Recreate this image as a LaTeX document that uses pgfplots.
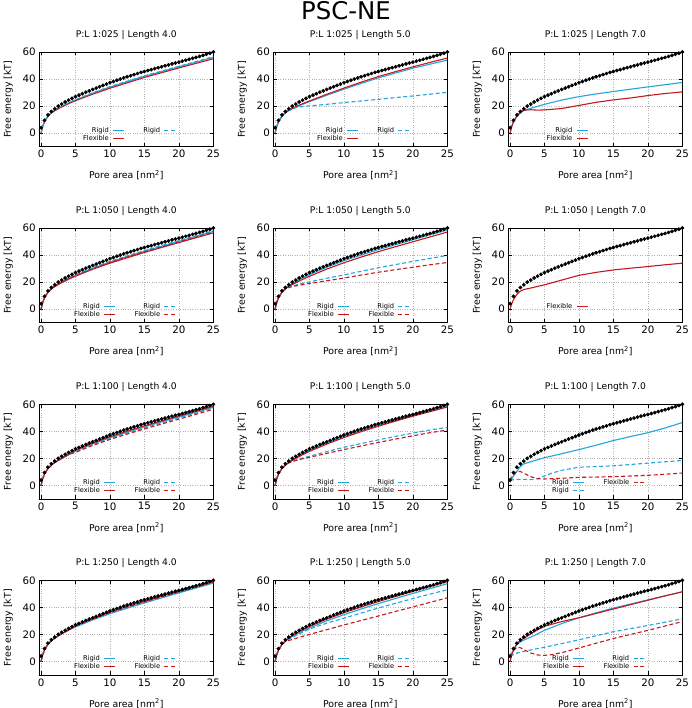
\documentclass[border=0pt]{standalone}
\usepackage{fontspec}
\setmainfont{DejaVu Sans}
\usepackage{pgfplots}
\usepackage{pgfplotstable}
\pgfplotsset{compat=1.18}
\definecolor{rigc}{RGB}{35,165,220}
\definecolor{flxc}{RGB}{195,25,30}

\pgfplotstableread{
x y
0 4
0.5 9.5
1 13.5
1.5 16
2 18
2.5 20
3 21.5
3.5 23
4 24.4
4.5 25.7
5 27
5.5 28.1
6 29.2
6.5 30.3
7 31.3
7.5 32.3
8 33.3
8.5 34.3
9 35.3
9.5 36.3
10 37.3
10.5 38.2
11 39.1
11.5 40
12 40.9
12.5 41.7
13 42.5
13.5 43.3
14 44.1
14.5 44.9
15 45.6
15.5 46.3
16 47
16.5 47.7
17 48.4
17.5 49.1
18 49.8
18.5 50.5
19 51.2
19.5 51.9
20 52.5
20.5 53.2
21 53.9
21.5 54.6
22 55.3
22.5 56
23 56.7
23.5 57.5
24 58.3
24.5 59.1
25 60
}\refdata

\pgfplotsset{
  panel/.style={
    scale only axis, width=174bp, height=94.7bp, anchor=south west,
    xmin=-0.25, xmax=25, ymin=-10, ymax=60,
    xtick={0,5,10,15,20,25}, ytick={0,20,40,60},
    grid=major, grid style={dotted, gray!60, line width=0.5pt},
    tick align=inside, major tick length=3.5bp,
    tick style={black, line width=0.6pt},
    axis line style={line width=0.8pt},
    ticklabel style={font=\fontsize{10.3}{12}\selectfont},
    /pgf/number format/assume math mode=true,
    xlabel={Pore area [nm\textsuperscript{2}]},
    ylabel={Free energy [kT]},
    every axis x label/.style={at={(axis description cs:0.5,-0.3)}, anchor=center, font=\fontsize{9.4}{11}\selectfont},
    every axis y label/.style={at={(axis description cs:-0.178,0.5)}, rotate=90, anchor=center, font=\fontsize{9.4}{11}\selectfont},
    every axis title/.style={at={(axis description cs:0.5,1.18)}, anchor=center, font=\fontsize{9.2}{11}\selectfont},
    legend plot pos=right, legend cell align=right,
    transpose legend, legend columns=2,
    legend image code/.code={\draw[##1] (0bp,0bp) -- (11bp,0bp);},
    legend style={draw=none, fill=none, font=\fontsize{6.7}{7}\selectfont,
      at={(axis description cs:0.787,0.215)}, anchor=north east,
      inner sep=0pt, row sep=0pt,
      nodes={inner sep=0.75bp},
      /tikz/every odd column/.style={column sep=3bp},
      /tikz/every even column/.style={column sep=18bp}},
  },
  rs/.style={rigc, line width=1.1bp},
  fs/.style={flxc, line width=1.1bp},
  rd/.style={rigc, line width=1.1bp, dash pattern=on 4bp off 2.5bp},
  fd/.style={flxc, line width=1.1bp, dash pattern=on 4bp off 2.5bp},
  refp/.style={only marks, mark=*, mark size=1.7bp, black, forget plot},
}

\begin{document}
\begin{tikzpicture}[x=1bp,y=1bp]
\useasboundingbox (0,0) rectangle (692,708);
\node[anchor=base, font=\fontsize{24.5}{28}\selectfont] at (346,688.5) {PSC-NE};

% Row 1
\begin{axis}[panel, at={(39.3bp,561.3bp)}, title={P:L 1:025 | Length 4.0}]
\addplot[rs] coordinates {(0,0)(0.25,5)(0.5,8.5)(1,12.5)(1.5,15)(2,16.8)(3,19.8)(4,22.2)(5,24.5)(7.5,29.5)(10,34)(12.5,38)(15,42)(17.5,45.5)(20,49)(22.5,52.5)(25,56)};
\addlegendentry{Rigid}
\addplot[fs] coordinates {(0,0)(0.25,5)(0.5,8.5)(1,12.5)(1.5,15)(2,16.6)(3,19.4)(4,21.8)(5,24)(7.5,28.8)(10,33.2)(12.5,37.2)(15,41.2)(17.5,44.7)(20,48.2)(22.5,51.6)(25,55)};
\addlegendentry{Flexible}
\addplot[rd] coordinates {(0,0)(0.25,5)(0.5,8.5)(1,12.6)(1.5,15.1)(2,17)(3,20)(4,22.5)(5,24.8)(7.5,29.9)(10,34.4)(12.5,38.4)(15,42.4)(17.5,45.9)(20,49.4)(22.5,52.9)(25,56.6)};
\addlegendentry{Rigid}
\addplot[refp] table {\refdata};
\end{axis}

\begin{axis}[panel, at={(273.3bp,561.3bp)}, title={P:L 1:025 | Length 5.0}]
\addplot[rs] coordinates {(0,0)(0.25,5)(0.5,8.5)(1,12.5)(1.5,15)(2,16.8)(3,19.2)(4,21.3)(5,23.3)(7.5,28)(10,32.5)(12.5,36.8)(15,40.8)(17.5,44.5)(20,48)(22.5,51)(25,54)};
\addlegendentry{Rigid}
\addplot[fs] coordinates {(0,0)(0.25,5)(0.5,8.5)(1,12.5)(1.5,15)(2,17)(3,19.5)(4,21.8)(5,23.8)(7.5,28.7)(10,33.3)(12.5,37.7)(15,41.8)(17.5,45.5)(20,49)(22.5,52.3)(25,55.5)};
\addlegendentry{Flexible}
\addplot[rd] coordinates {(0,0)(0.25,5)(0.5,8.5)(1,12.5)(1.5,15)(2,16.8)(3,18.8)(4,19.7)(5,20.2)(7.5,21.3)(10,22.6)(12.5,23.8)(15,25)(17.5,26.3)(20,27.5)(22.5,28.8)(25,30.2)};
\addlegendentry{Rigid}
\addplot[refp] table {\refdata};
\end{axis}

\begin{axis}[panel, at={(508.3bp,561.3bp)}, title={P:L 1:025 | Length 7.0},
  legend style={at={(axis description cs:0.46,0.215)}}]
\addplot[rs] coordinates {(0,0)(0.25,5)(0.5,8.5)(1,12.5)(1.5,15)(2,16.8)(3,18.3)(4,19.8)(5,21.3)(7.5,24.5)(10,27)(12.5,29)(15,30.8)(17.5,32.5)(20,34.2)(22.5,35.8)(25,37.5)};
\addlegendentry{Rigid}
\addplot[fs] coordinates {(0,0)(0.25,5)(0.5,8.5)(1,12.8)(1.5,15.5)(2,17)(3,17.3)(4,17)(5,17.2)(6,17.6)(7.5,18.2)(10,20.5)(12.5,22.8)(15,24.6)(17.5,26)(20,27.8)(22.5,29.3)(25,30.5)};
\addlegendentry{Flexible}
\addplot[refp] table {\refdata};
\end{axis}

% Row 2
\begin{axis}[panel, at={(39.3bp,385.3bp)}, title={P:L 1:050 | Length 4.0}]
\addplot[rs] coordinates {(0,0)(0.25,5)(0.5,8.5)(1,12.5)(1.5,15)(2,17)(3,20)(4,22.6)(5,25)(7.5,30.2)(10,34.8)(12.5,38.9)(15,42.8)(17.5,46.5)(20,50.2)(22.5,53.8)(25,57.5)};
\addlegendentry{Rigid}
\addplot[fs] coordinates {(0,0)(0.25,5)(0.5,8.5)(1,12.5)(1.5,15)(2,16.7)(3,19.6)(4,22.1)(5,24.4)(7.5,29.5)(10,34)(12.5,38)(15,41.9)(17.5,45.6)(20,49.2)(22.5,52.8)(25,56.4)};
\addlegendentry{Flexible}
\addplot[rd] coordinates {(0,0)(0.25,5)(0.5,8.5)(1,12.5)(1.5,15)(2,17)(3,20)(4,22.6)(5,25.3)(7.5,30.6)(10,35.3)(12.5,39.4)(15,43.3)(17.5,47)(20,50.7)(22.5,54.3)(25,58)};
\addlegendentry{Rigid}
\addplot[fd] coordinates {(0,0)(0.25,5)(0.5,8.5)(1,12.5)(1.5,15)(2,17)(3,20)(4,22.6)(5,24.7)(7.5,29.9)(10,34.5)(12.5,38.5)(15,42.4)(17.5,46)(20,49.6)(22.5,53.2)(25,56.8)};
\addlegendentry{Flexible}
\addplot[refp] table {\refdata};
\end{axis}

\begin{axis}[panel, at={(273.3bp,385.3bp)}, title={P:L 1:050 | Length 5.0}]
\addplot[rs] coordinates {(0,0)(0.25,5)(0.5,8.5)(1,12.5)(1.5,15)(2,17.2)(3,20.3)(4,23)(5,25.5)(7.5,31)(10,35.8)(12.5,40)(15,44)(17.5,47.7)(20,51.3)(22.5,55)(25,58.5)};
\addlegendentry{Rigid}
\addplot[fs] coordinates {(0,0)(0.25,5)(0.5,8.5)(1,12.5)(1.5,15)(2,16.8)(3,19.5)(4,22)(5,24.3)(7.5,29.6)(10,34.3)(12.5,38.5)(15,42.5)(17.5,46.2)(20,49.8)(22.5,53.4)(25,57)};
\addlegendentry{Flexible}
\addplot[rd] coordinates {(0,0)(0.25,5)(0.5,8.5)(1,12.5)(1.5,15)(2,16.5)(3,17.8)(4,19)(5,20.2)(7.5,22.8)(10,25.3)(12.5,28)(15,30.6)(17.5,33)(20,35.3)(22.5,37.5)(25,39.7)};
\addlegendentry{Rigid}
\addplot[fd] coordinates {(0,0)(0.25,5)(0.5,8.5)(1,12.5)(1.5,15)(2,16)(3,17.2)(4,18.1)(5,19)(7.5,21)(10,23)(12.5,25.2)(15,27.3)(17.5,29.2)(20,31)(22.5,32.8)(25,34.5)};
\addlegendentry{Flexible}
\addplot[refp] table {\refdata};
\end{axis}

\begin{axis}[panel, at={(508.3bp,385.3bp)}, title={P:L 1:050 | Length 7.0},
  legend style={at={(axis description cs:0.46,0.215)}}]
\addplot[fs] coordinates {(0,0)(0.25,4)(0.5,7)(1,11)(1.5,13.3)(2,14.5)(3,15.6)(4,16.8)(5,18)(7.5,21.5)(10,25)(12.5,27.2)(15,29)(17.5,30.3)(20,31.5)(22.5,32.8)(25,34)};
\addlegendentry{Flexible}
\addplot[refp] table {\refdata};
\end{axis}

% Row 3
\begin{axis}[panel, at={(39.3bp,209bp)}, title={P:L 1:100 | Length 4.0}]
\addplot[rs] coordinates {(0,0)(0.25,5)(0.5,8.5)(1,12.5)(1.5,15)(2,17)(3,20)(4,22.8)(5,25.5)(7.5,30.7)(10,35.3)(12.5,39.4)(15,43.3)(17.5,47)(20,50.6)(22.5,54.2)(25,57.8)};
\addlegendentry{Rigid}
\addplot[fs] coordinates {(0,0)(0.25,5)(0.5,8.5)(1,12.5)(1.5,15)(2,17)(3,20)(4,22.8)(5,26)(7.5,31.3)(10,36)(12.5,40.1)(15,44)(17.5,47.7)(20,51.3)(22.5,55)(25,58.5)};
\addlegendentry{Flexible}
\addplot[rd] coordinates {(0,0)(0.25,5)(0.5,8.5)(1,12.5)(1.5,15)(2,17)(3,20)(4,22.8)(5,25)(7.5,30.2)(10,34.7)(12.5,38.8)(15,42.6)(17.5,46.3)(20,49.9)(22.5,53.5)(25,57.2)};
\addlegendentry{Rigid}
\addplot[fd] coordinates {(0,0)(0.25,5)(0.5,8.5)(1,12.5)(1.5,15)(2,17)(3,20)(4,22.8)(5,24.5)(7.5,29.6)(10,34)(12.5,38)(15,41.8)(17.5,45.4)(20,49)(22.5,52.6)(25,56.3)};
\addlegendentry{Flexible}
\addplot[refp] table {\refdata};
\end{axis}

\begin{axis}[panel, at={(273.3bp,209bp)}, title={P:L 1:100 | Length 5.0}]
\addplot[rs] coordinates {(0,0)(0.25,5)(0.5,8.5)(1,12.5)(1.5,15)(2,17.3)(3,20.6)(4,23.4)(5,26)(7.5,31.5)(10,36.3)(12.5,40.5)(15,44.5)(17.5,48.2)(20,51.8)(22.5,55.2)(25,58.6)};
\addlegendentry{Rigid}
\addplot[fs] coordinates {(0,0)(0.25,5)(0.5,8.5)(1,12.5)(1.5,15)(2,17)(3,20)(4,22.7)(5,25.2)(7.5,30.6)(10,35.4)(12.5,39.8)(15,43.8)(17.5,47.6)(20,51.2)(22.5,54.6)(25,58)};
\addlegendentry{Flexible}
\addplot[rd] coordinates {(0,0)(0.25,5)(0.5,8.5)(1,12.5)(1.5,15)(2,17)(3,18.8)(4,20.3)(5,21.6)(7.5,25)(10,28.2)(12.5,31)(15,33.7)(17.5,36.3)(20,38.7)(22.5,41)(25,43)};
\addlegendentry{Rigid}
\addplot[fd] coordinates {(0,0)(0.25,5)(0.5,8.5)(1,12.5)(1.5,15)(2,16.7)(3,18.4)(4,19.7)(5,20.8)(7.5,23.7)(10,26.5)(12.5,29.2)(15,31.8)(17.5,34.3)(20,36.7)(22.5,39)(25,41)};
\addlegendentry{Flexible}
\addplot[refp] table {\refdata};
\end{axis}

\begin{axis}[panel, at={(508.3bp,209bp)}, title={P:L 1:100 | Length 7.0}]
\addplot[rs] coordinates {(0,3)(0.25,5)(0.5,7)(1,10.5)(1.5,14)(2,16)(3,17.5)(4,19)(5,20.5)(7.5,23.5)(10,26.5)(12.5,29.8)(15,33.2)(17.5,36.2)(20,39)(22.5,42.5)(25,46.5)};
\addlegendentry{Rigid}
\addplot[rd] coordinates {(0,4)(1,4.5)(2,4.5)(3,4.3)(4,5)(5,7)(6,9)(7.5,11.2)(10,13.5)(12.5,14)(15,14.5)(17.5,15.5)(20,16.5)(22.5,17.5)(25,18.5)};
\addlegendentry{Rigid}
\addplot[fd] coordinates {(0,4)(0.5,8)(1,10.5)(1.5,10.3)(2,9)(3,6.5)(4,5)(5,4.8)(7.5,5.3)(10,6)(12.5,6.2)(15,6.5)(17.5,7)(20,7.5)(22.5,8.3)(25,9.2)};
\addlegendentry{Flexible}
\addplot[refp] table {\refdata};
\end{axis}

% Row 4
\begin{axis}[panel, at={(39.3bp,33bp)}, title={P:L 1:250 | Length 4.0}]
\addplot[rs] coordinates {(0,0)(0.25,5)(0.5,8.5)(1,12.8)(1.5,15.3)(2,17.3)(3,20.5)(4,23.2)(5,25.5)(7.5,30.7)(10,35.3)(12.5,39.4)(15,43.3)(17.5,47)(20,50.7)(22.5,54.3)(25,58)};
\addlegendentry{Rigid}
\addplot[fs] coordinates {(0,0)(0.25,5)(0.5,8.5)(1,12.8)(1.5,15.3)(2,17.3)(3,20.5)(4,23.2)(5,26.5)(7.5,31.8)(10,36.5)(12.5,40.6)(15,44.5)(17.5,48.2)(20,51.8)(22.5,55.4)(25,59)};
\addlegendentry{Flexible}
\addplot[rd] coordinates {(0,0)(0.25,5)(0.5,8.5)(1,12.8)(1.5,15.3)(2,17.3)(3,20.5)(4,23.2)(5,25.8)(7.5,31)(10,35.7)(12.5,39.8)(15,43.7)(17.5,47.4)(20,51)(22.5,54.6)(25,58.3)};
\addlegendentry{Rigid}
\addplot[fd] coordinates {(0,0)(0.25,5)(0.5,8.5)(1,12.8)(1.5,15.3)(2,17.3)(3,20.5)(4,23.2)(5,26.2)(7.5,31.4)(10,36.1)(12.5,40.2)(15,44.1)(17.5,47.8)(20,51.4)(22.5,55)(25,58.7)};
\addlegendentry{Flexible}
\addplot[refp] table {\refdata};
\end{axis}

\begin{axis}[panel, at={(273.3bp,33bp)}, title={P:L 1:250 | Length 5.0}]
\addplot[rs] coordinates {(0,0)(0.25,5)(0.5,8.5)(1,12.5)(1.5,15)(2,17)(3,20)(4,22.5)(5,24.8)(7.5,30)(10,34.6)(12.5,38.8)(15,42.8)(17.5,46.6)(20,50.3)(22.5,53.9)(25,57.5)};
\addlegendentry{Rigid}
\addplot[fs] coordinates {(0,0)(0.25,5)(0.5,8.5)(1,12.5)(1.5,15)(2,17.5)(3,20.7)(4,23.4)(5,25.9)(7.5,31.3)(10,36)(12.5,40.3)(15,44.3)(17.5,48.1)(20,51.8)(22.5,55.4)(25,59)};
\addlegendentry{Flexible}
\addplot[rd] coordinates {(0,0)(0.25,5)(0.5,8.5)(1,12.5)(1.5,15)(2,16.5)(3,19)(4,21.5)(5,24)(7.5,28.3)(10,32)(12.5,35.8)(15,39.5)(17.5,43)(20,46.5)(22.5,49.8)(25,53)};
\addlegendentry{Rigid}
\addplot[fd] coordinates {(0,0)(0.25,5)(0.5,8.5)(1,12.5)(1.5,15)(2,15.5)(3,17)(4,18.6)(5,20)(7.5,23.5)(10,27)(12.5,30.3)(15,33.6)(17.5,37)(20,40.3)(22.5,43.7)(25,47)};
\addlegendentry{Flexible}
\addplot[refp] table {\refdata};
\end{axis}

\begin{axis}[panel, at={(508.3bp,33bp)}, title={P:L 1:250 | Length 7.0}]
\addplot[rs] coordinates {(0,0)(0.25,5)(0.5,8.5)(1,12.5)(1.5,14.5)(2,15.8)(3,18)(4,20.5)(5,23)(7.5,28)(10,32.3)(12.5,36)(15,39.5)(17.5,42.5)(20,45.5)(22.5,48.5)(25,51.5)};
\addlegendentry{Rigid}
\addplot[fs] coordinates {(0,0)(0.25,5)(0.5,8.5)(1,13.5)(1.5,15.5)(2,17.2)(3,20.3)(4,23.5)(5,26)(7.5,29.5)(10,32.3)(12.5,35.5)(15,38.8)(17.5,42)(20,45.3)(22.5,48.5)(25,51.5)};
\addlegendentry{Flexible}
\addplot[rd] coordinates {(0,4)(0.5,5)(1,6.2)(2,7.5)(3,8.5)(5,10.5)(7.5,13.2)(10,16)(12.5,19)(15,22)(17.5,24.3)(20,26.6)(22.5,29)(25,31.5)};
\addlegendentry{Rigid}
\addplot[fd] coordinates {(0,4)(0.5,8)(1,10.5)(1.5,10.2)(2,8.8)(3,6.3)(4,4.8)(5,4.5)(6,5)(7.5,6.5)(10,10)(12.5,13.5)(15,17)(17.5,20)(20,23)(22.5,26.2)(25,29.5)};
\addlegendentry{Flexible}
\addplot[refp] table {\refdata};
\end{axis}
\end{tikzpicture}
\end{document}
